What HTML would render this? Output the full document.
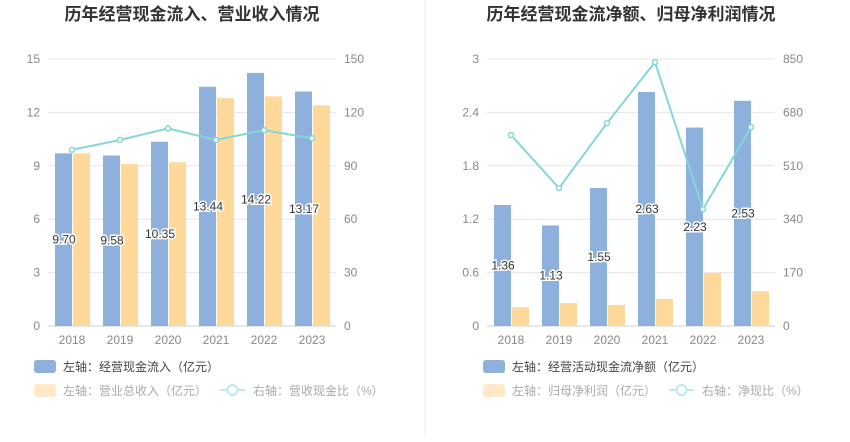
<!DOCTYPE html>
<html><head><meta charset="utf-8"><style>
body{margin:0;background:#fff;width:850px;height:437px;overflow:hidden;font-family:"Liberation Sans","Noto Sans CJK SC",sans-serif}
svg text{font-family:"Liberation Sans","Noto Sans CJK SC",sans-serif}
</style></head><body>
<svg id="s" width="850" height="437"></svg>
<script>
const categories=["2018","2019","2020","2021","2022","2023"];
const leftBars1=[9.70,9.58,10.35,13.44,14.22,13.17];
const rightBars1=[97,91,92,128,129,124];
const line1=[99,104.5,111,104.5,110,105.5];
const leftTicks1=[0,3,6,9,12,15];
const rightTicks1=[0,30,60,90,120,150];
const leftBars2=[1.36,1.13,1.55,2.63,2.23,2.53];
const rightBars2=[60,73,67,86,169,111];
const line2=[608,439,646,840,372,633];
const leftTicks2=["0","0.6","1.2","1.8","2.4","3"];
const rightTicks2=[0,170,340,510,680,850];
const NS="http://www.w3.org/2000/svg";
const svg=document.getElementById('s');
function el(t,a,txt){const e=document.createElementNS(NS,t);for(const k in a)e.setAttribute(k,a[k]);if(txt!=null)e.textContent=txt;svg.appendChild(e);return e;}
function chart(o){
  const top=59,bot=326,x0=o.x0,x1=o.x1,n=categories.length,step=(x1-x0)/n;
  const yL=v=>bot-(v/o.lmax)*(bot-top), yR=v=>bot-(v/o.rmax)*(bot-top);
  const t=el('text',{x:(x0+x1)/2,y:20,'text-anchor':'middle','font-size':17,'font-weight':'bold',fill:'#333'},o.title);
  
  
  o.lt.forEach((v,i)=>{const y=bot-i*(bot-top)/(o.lt.length-1);
    const g=el('line',{x1:x0,x2:x1,y1:y,y2:y,stroke:i?'#e6e6e6':'#ccc'});
    
    
    const a=el('text',{x:x0-8,y:y+4,'text-anchor':'end','font-size':12,fill:'#888'},v);
    
    
    const b=el('text',{x:x1+8,y:y+4,'text-anchor':'start','font-size':12,fill:'#888'},o.rt[i]);
    
    
  });
  const pts=[];
  categories.forEach((c,i)=>{const cx=x0+step*(i+0.5);
    const lab=el('text',{x:cx,y:bot+18,'text-anchor':'middle','font-size':12,fill:'#888'},c);
    
    
    const v=o.lb[i],y=yL(v);
    const r=el('rect',{x:cx-17,y:y,width:17,height:bot-y,fill:'#8eb0dd'});
    
    
    const y2=yR(o.rb[i]);
    const r2=el('rect',{x:cx+1,y:y2,width:17,height:bot-y2,fill:'#ffd99a'});
    
    
    pts.push([cx,yR(o.ln[i])]);
  });
  const p=el('polyline',{points:pts.map(q=>q.join(',')).join(' '),fill:'none',stroke:'#86d6d9','stroke-width':2});
  
  
  pts.forEach(q=>{const c=el('circle',{cx:q[0],cy:q[1],r:2.5,fill:'#fff',stroke:'#86d6d9','stroke-width':1.5});
    
    });
  categories.forEach((c,i)=>{const cx=x0+step*(i+0.5),y=yL(o.lb[i]);
    const l=el('text',{x:cx-8,y:(y+bot)/2+4,'text-anchor':'middle','font-size':12,fill:'#333',stroke:'#fff','stroke-width':3,'paint-order':'stroke'},o.lb[i].toFixed(2));
    
    });
  const lx=o.lx;
  const a=el('rect',{x:lx,y:360,width:22,height:13,rx:3,fill:'#8eb0dd'});
  
  
  const at=el('text',{x:lx+29,y:371,'font-size':12,fill:'#444'},o.l1);
  
  
  const b=el('rect',{x:lx,y:384,width:22,height:13,rx:3,fill:'#ffe9c8'});
  
  
  const bt=el('text',{x:lx+29,y:395,'font-size':12,fill:'#aaa'},o.l2);
  
  
  const ll=el('line',{x1:lx+186,x2:lx+211,y1:390,y2:390,stroke:'#bfe9ea','stroke-width':2});
  
  
  const lc=el('circle',{cx:lx+198.5,cy:390,r:5,fill:'#fff',stroke:'#bfe9ea','stroke-width':2});
  
  
  const lt=el('text',{x:lx+219,y:395,'font-size':12,fill:'#aaa'},o.l3);
  
  
}
chart({x0:48,x1:336,lmax:15,rmax:150,lb:leftBars1,rb:rightBars1,ln:line1,lt:leftTicks1,rt:rightTicks1,lx:34,
 title:"历年经营现金流入、营业收入情况",l1:"左轴：经营现金流入（亿元）",l2:"左轴：营业总收入（亿元）",l3:"右轴：营收现金比（%）"});
chart({x0:487,x1:775,lmax:3,rmax:850,lb:leftBars2,rb:rightBars2,ln:line2,lt:leftTicks2,rt:rightTicks2,lx:483,
 title:"历年经营现金流净额、归母净利润情况",l1:"左轴：经营活动现金流净额（亿元）",l2:"左轴：归母净利润（亿元）",l3:"右轴：净现比（%）"});
const d=el('line',{x1:425,x2:425,y1:0,y2:437,stroke:'#eee'});


</script>
</body></html>
